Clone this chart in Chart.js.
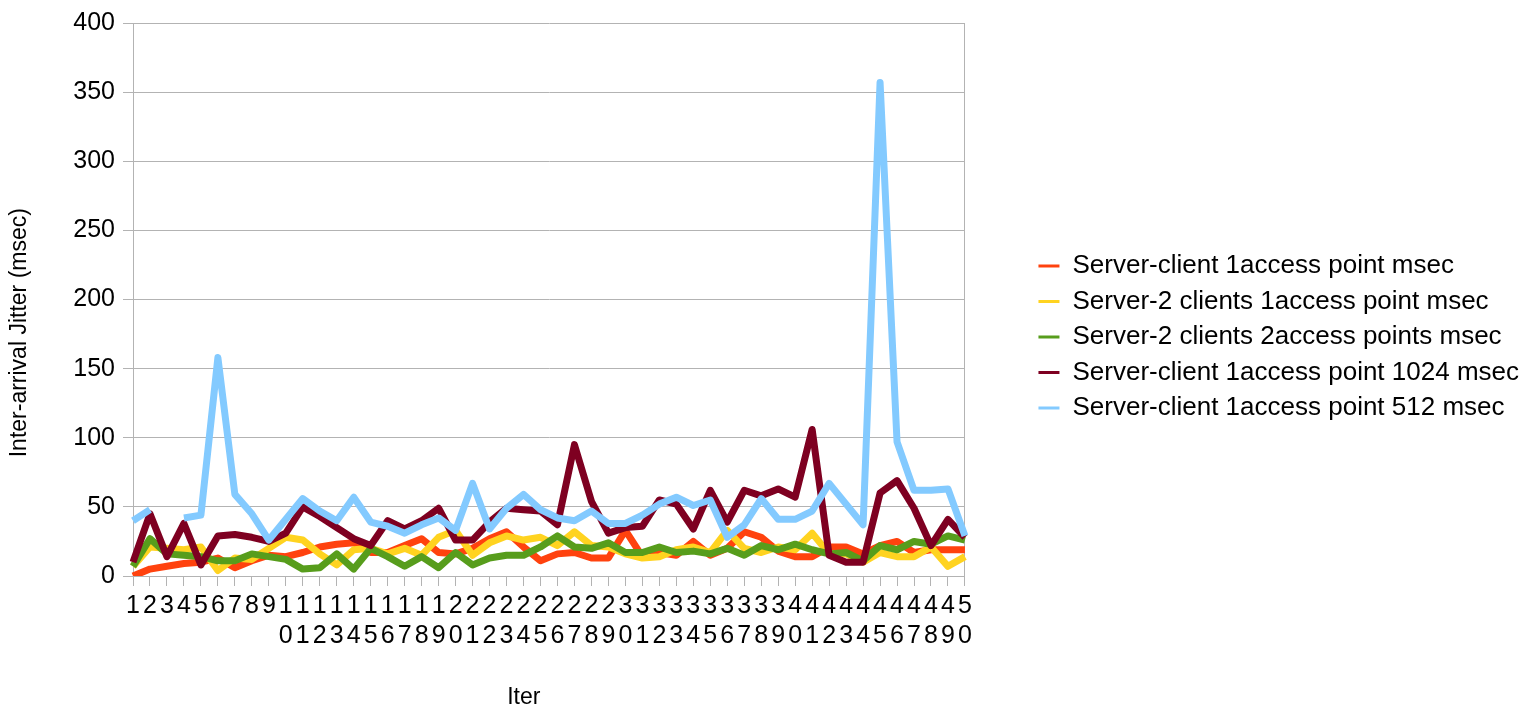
<!DOCTYPE html>
<html>
<head>
<meta charset="utf-8">
<title>Inter-arrival Jitter</title>
<script src="https://cdn.jsdelivr.net/npm/chart.js@4.4.1/dist/chart.umd.min.js"></script>
<style>
  html, body { margin: 0; padding: 0; background: #ffffff; }
  canvas { display: block; }
</style>
</head>
<body>
<canvas id="jitter" width="1529" height="713"></canvas>
<script>
// Iteration numbers along the x axis
const iterations = [
  "1","2","3","4","5","6","7","8","9","10",
  "11","12","13","14","15","16","17","18","19","20",
  "21","22","23","24","25","26","27","28","29","30",
  "31","32","33","34","35","36","37","38","39","40",
  "41","42","43","44","45","46","47","48","49","50"
];

// Jitter per iteration, msec
const serverClient1Ap = [
  0, 5, 7, 9, 10, 13, 6, 11, 15, 14,
  17, 21, 23, 24, 17, 17, 22, 27, 17, 16,
  20, 27, 32, 21, 11, 16, 17, 13, 13, 33,
  14, 17, 15, 25, 15, 20, 32, 28, 18, 14,
  14, 21, 21, 16, 22, 25, 17, 19, 19, 19
];
const server2Clients1Ap = [
  7, 21, 20, 19, 21, 4, 13, 12, 20, 28,
  26, 16, 8, 19, 20, 16, 20, 15, 28, 33,
  15, 24, 29, 26, 28, 22, 32, 22, 21, 16,
  13, 14, 19, 21, 17, 33, 20, 17, 21, 19,
  31, 16, 16, 10, 17, 14, 14, 21, 7, 14
];
const server2Clients2Ap = [
  7, 27, 16, 15, 14, 11, 11, 16, 14, 12,
  5, 6, 16, 5, 20, 14, 7, 14, 6, 17,
  8, 13, 15, 15, 21, 29, 21, 20, 24, 17,
  17, 21, 17, 18, 16, 20, 15, 22, 19, 23,
  19, 16, 17, 11, 22, 19, 25, 23, 29, 26
];
const serverClient1Ap1024 = [
  10, 45, 14, 38, 8, 29, 30, 28, 25, 31,
  50, 43, 35, 27, 22, 40, 34, 40, 49, 26,
  26, 39, 49, 48, 47, 37, 95, 54, 31, 35,
  36, 55, 52, 34, 62, 39, 62, 58, 63, 57,
  106, 15, 10, 10, 60, 69, 49, 22, 41, 28
];
const serverClient1Ap512 = [
  40, 48, null, 42, 44, 158, 59, 45, 26, 41,
  56, 47, 40, 57, 39, 36, 31, 37, 42, 33,
  67, 34, 49, 59, 48, 42, 40, 47, 38, 38,
  44, 52, 57, 51, 55, 28, 37, 56, 41, 41,
  47, 67, 52, 37, 357, 97, 62, 62, 63, 29
];

const seriesNames = [
  "Server-client 1access point msec",
  "Server-2 clients 1access point msec",
  "Server-2 clients 2access points msec",
  "Server-client 1access point 1024 msec",
  "Server-client 1access point 512 msec"
];
const seriesValues = [
  serverClient1Ap, server2Clients1Ap, server2Clients2Ap,
  serverClient1Ap1024, serverClient1Ap512
];
const seriesColors = ["#ff420e", "#ffd320", "#579d1c", "#7e0021", "#83caff"];

// Value axis range
const yMin = 0;
const yMax = 400;
const yStep = 50;

// Axis captions
const xCaption = "Iter";
const yCaption = "Inter-arrival Jitter (msec)";

const FONT = '"Liberation Sans", Arial, Helvetica, sans-serif';
const GRID = "#b3b3b3";

Chart.defaults.font.family = FONT;
Chart.defaults.color = "#000000";

// Two-digit iteration numbers are stacked digit over digit
const tickLabels = iterations.map(s => (s.length > 1 ? s.split("") : s));

const datasets = seriesValues.map((values, i) => ({
  label: seriesNames[i],
  data: values,
  borderColor: seriesColors[i],
  backgroundColor: seriesColors[i],
  borderWidth: 7,
  borderJoinStyle: "round",
  borderCapStyle: "butt",
  pointRadius: 0,
  pointHoverRadius: 0,
  tension: 0,
  spanGaps: false,
  fill: false,
  yAxisID: "y",
  // later series are painted over earlier ones
  order: seriesValues.length - i
}));

// Axis captions, centred on the whole diagram rather than on the plot box
const axisCaptions = {
  id: "axisCaptions",
  afterDraw(chart) {
    const { ctx, chartArea } = chart;
    ctx.save();
    ctx.fillStyle = "#000000";
    ctx.font = "23px " + FONT;
    ctx.textAlign = "center";
    ctx.textBaseline = "middle";
    ctx.fillText(xCaption, chartArea.left - 11 + (chartArea.right - chartArea.left) * 0.483, chartArea.bottom + 122);
    ctx.translate(20, chartArea.top + (chartArea.bottom - chartArea.top) * 0.56);
    ctx.rotate(-Math.PI / 2);
    ctx.fillText(yCaption, 0, 0);
    ctx.restore();
  }
};

new Chart(document.getElementById("jitter"), {
  type: "line",
  data: { labels: tickLabels, datasets },
  plugins: [axisCaptions],
  options: {
    responsive: false,
    animation: false,
    events: [],
    layout: { padding: { left: 2, top: 18, right: 0, bottom: 57 } },
    plugins: {
      tooltip: { enabled: false },
      legend: {
        position: "right",
        align: "center",
        maxWidth: 640,
        labels: {
          boxWidth: 21,
          boxHeight: 3,
          padding: 9.5,
          color: "#000000",
          font: { size: 26, family: FONT },
          generateLabels: (chart) => chart.data.datasets.map((ds, i) => ({
            text: ds.label,
            fillStyle: ds.borderColor,
            strokeStyle: ds.borderColor,
            lineWidth: 0,
            hidden: false,
            datasetIndex: i
          }))
        }
      }
    },
    scales: {
      x: {
        type: "category",
        offset: false,
        afterFit: (s) => { s.height = 80; },
        grid: {
          display: true,
          drawOnChartArea: false,
          drawTicks: true,
          tickLength: 10,
          color: GRID,
          lineWidth: 1
        },
        border: { display: true, color: GRID, width: 1 },
        ticks: {
          autoSkip: false,
          maxRotation: 0,
          minRotation: 0,
          padding: 5,
          color: "#000000",
          font: { size: 25, lineHeight: 1.2 }
        }
      },
      y: {
        type: "linear",
        position: "left",
        min: yMin,
        max: yMax,
        afterFit: (s) => { s.width = 131; },
        ticks: {
          stepSize: yStep,
          padding: 8,
          color: "#000000",
          font: { size: 25, lineHeight: 1.2 }
        },
        grid: {
          color: GRID,
          lineWidth: 1,
          tickLength: 10,
          drawTicks: true
        },
        border: { display: true, color: GRID, width: 1 }
      },
      // right frame of the plot and the gap before the legend
      frame: {
        type: "linear",
        position: "right",
        display: true,
        afterFit: (s) => { s.width = 64; },
        grid: { display: false, drawTicks: false },
        ticks: { display: false },
        border: { display: true, color: GRID, width: 1 }
      }
    }
  }
});
</script>
</body>
</html>
